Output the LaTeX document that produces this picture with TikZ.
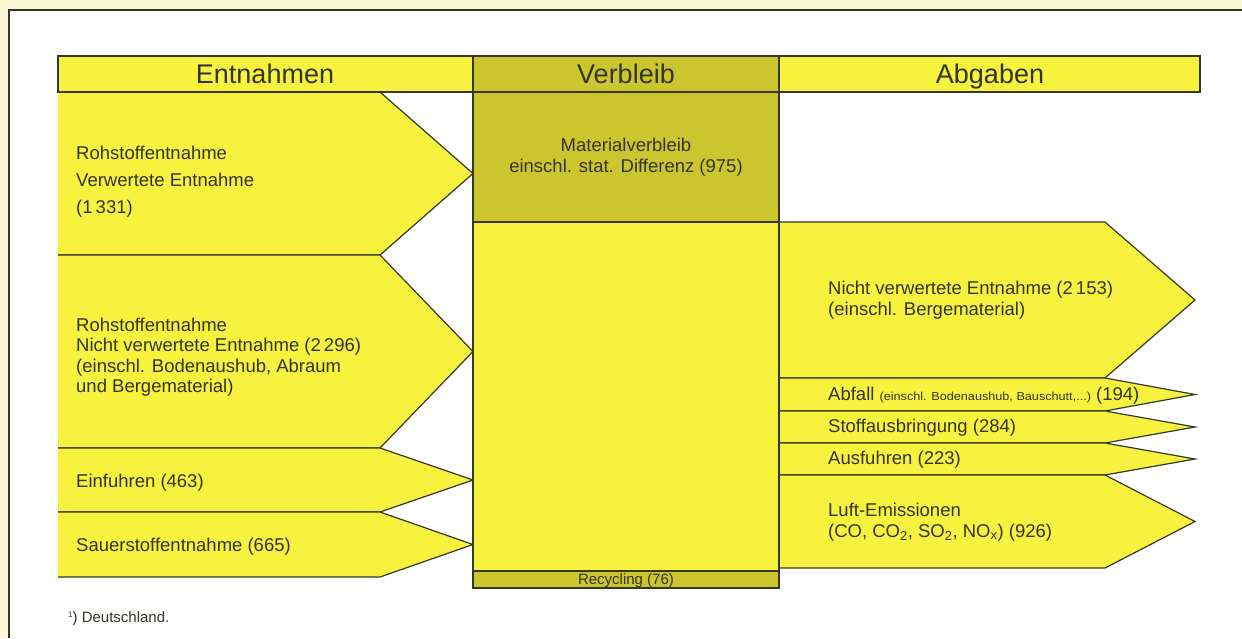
\documentclass[tikz,border=0pt]{standalone}
\usepackage{fontspec}
\setmainfont{Liberation Sans}
\usepackage{graphicx}
\definecolor{bgpale}{RGB}{250,247,214}
\definecolor{ylw}{RGB}{246,242,62}
\definecolor{olv}{RGB}{204,198,46}
\definecolor{edge}{RGB}{55,55,40}
\definecolor{ink}{RGB}{52,52,40}
\begin{document}
\begin{tikzpicture}[x=1pt,y=-1pt,line join=miter,
  outline/.style={draw=edge,line width=1.2pt},
  txt/.style={text=ink,inner sep=0pt,anchor=west,align=left,font=\fontsize{18.5}{20.5}\selectfont},
  txtwide/.style={txt,font=\fontsize{18.5}{27}\selectfont},
  head/.style={text=ink,inner sep=0pt,anchor=base,font=\fontsize{27}{30}\selectfont},
  small/.style={text=ink,inner sep=0pt,anchor=base,font=\fontsize{15}{16}\selectfont}]
\useasboundingbox (0,0) rectangle (1242,638);
% page frame
\fill[bgpale] (0,0) rectangle (1242,638);
\fill[white] (9,10) rectangle (1242,638);
\draw[edge,line width=1.2pt] (9,638) -- (9,10) -- (1242,10);
% header bar
\fill[ylw] (58,56) rectangle (1200,92);
% left arrows (Entnahmen)
\foreach \t/\b in {92/255,255/448,448/512,512/577}{
  \fill[ylw] (58,\t) -- (380,\t) -- (473,{(\t+\b)/2}) -- (380,\b) -- (58,\b) -- cycle;
  \draw[outline] (58,\t) -- (380,\t) -- (473,{(\t+\b)/2}) -- (380,\b) -- (58,\b);
}
% right arrows (Abgaben)
\foreach \t/\b in {222/378,378/411,411/443,443/475,475/568}{
  \fill[ylw] (779,\t) -- (1105,\t) -- (1195,{(\t+\b)/2}) -- (1105,\b) -- (779,\b) -- cycle;
  \draw[outline] (779,\t) -- (1105,\t) -- (1195,{(\t+\b)/2}) -- (1105,\b) -- (779,\b);
}
% Verbleib column
\fill[ylw] (473,56) rectangle (779,588);
\fill[olv] (473,56) rectangle (779,222);
\fill[olv] (473,571) rectangle (779,588);
\draw[outline] (58,56) rectangle (1200,92);
\draw[outline] (473,56) rectangle (779,588);
\draw[outline] (473,222) -- (779,222);
\draw[outline] (473,571) -- (779,571);
% header texts
\node[head] (h1) at (265,83) {Entnahmen};
\node[head] (h2) at (626,83) {Verbleib};
\node[head] (h3) at (990,83) {Abgaben};
% left texts
\node[txtwide] (e1) at (76,182) {Rohstoffentnahme\\Verwertete Entnahme\\(1\,331)};
\node[txt] (e2) at (76,357) {Rohstoffentnahme\\Nicht verwertete Entnahme (2\,296)\\(einschl. Bodenaushub, Abraum\\und Bergematerial)};
\node[txt] (e3) at (76,483) {Einfuhren (463)};
\node[txt] (e4) at (76,547) {Sauerstoffentnahme (665)};
% Verbleib texts
\node[txt,anchor=center,align=center] (mv) at (626,157) {Materialverbleib\\einschl. stat. Differenz (975)};
\node[small] (rec) at (626,584.5) {Recycling (76)};
% right texts
\node[txt] (a1) at (828,300) {Nicht verwertete Entnahme (2\,153)\\(einschl. Bergematerial)};
\node[txt] (a2) at (828,396) {Abfall {\fontsize{11.5}{12}\selectfont\scalebox{1.1}[1]{(einschl. Bodenaushub, Bauschutt,...)}} (194)};
\node[txt] (a3) at (828,428) {Stoffausbringung (284)};
\node[txt] (a4) at (828,460) {Ausfuhren (223)};
\node[txt] (a5) at (828,522) {Luft-Emissionen\\(CO, CO\textsubscript{2}, SO\textsubscript{2}, NO\textsubscript{x}) (926)};
% footnote
\node[text=ink,inner sep=0pt,anchor=west,font=\fontsize{15}{17}\selectfont] (fn) at (68,619) {{\fontsize{8}{9}\selectfont\raisebox{5pt}{1}}) Deutschland.};
\end{tikzpicture}
\end{document}
